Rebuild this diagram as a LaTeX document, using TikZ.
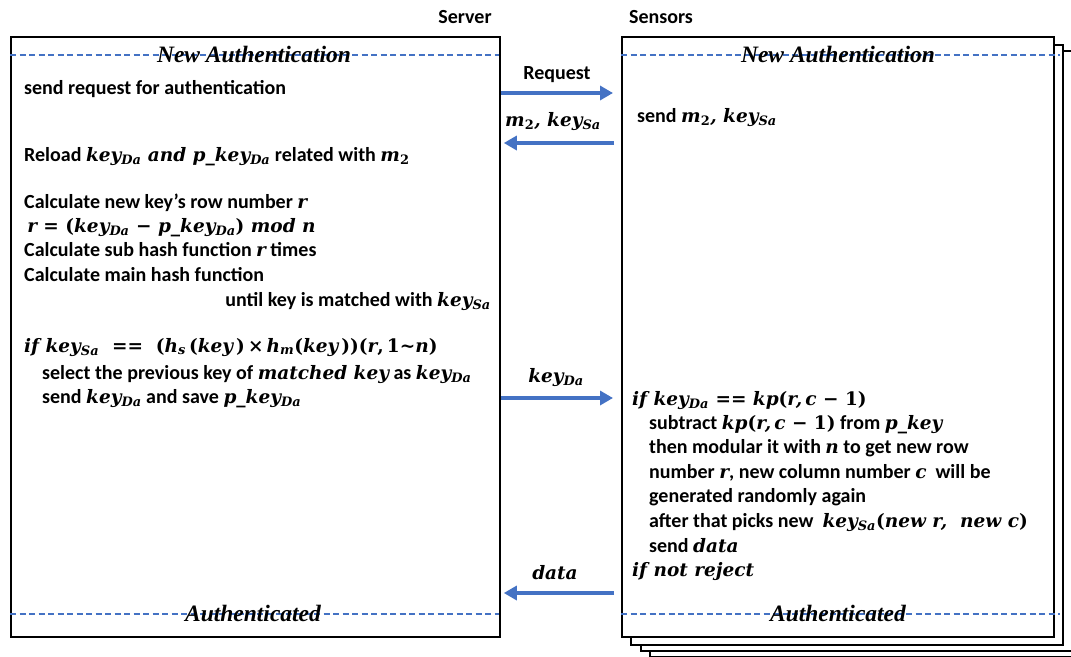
\documentclass[tikz,border=0pt]{standalone}
\usepackage[no-math]{fontspec}
\setmainfont{Carlito}
\newfontfamily\hdrfont{Liberation Serif}
\newfontfamily\mvfont{DejaVu Serif}
\newcommand\M[1]{{\mvfont\bfseries\itshape\fontsize{18.5}{24}\selectfont #1}}
\newcommand\sbi[1]{\textsubscript{#1}}
\newcommand\up[1]{{\upshape #1}}
\usetikzlibrary{arrows.meta}
\definecolor{lnblue}{HTML}{4472C4}
\begin{document}
\begin{tikzpicture}[x=1pt,y=-1pt,
  frame/.style={draw=black,line width=1.8pt,fill=white,inner sep=0pt,anchor=north west},
  sep/.style={draw=lnblue,line width=1.6pt,dash pattern=on 6pt off 3.5pt},
  hdr/.style={font=\fontsize{23.5}{28}\selectfont\hdrfont\bfseries\itshape,inner sep=0pt,anchor=base},
  txt/.style={font=\fontsize{20}{24}\selectfont\bfseries,inner sep=0pt,anchor=base west},
  lbl/.style={txt,anchor=base},
  arr/.style={draw=lnblue,line width=4.5pt,-{Triangle[width=14pt,length=13pt]}}
]
\useasboundingbox (0,0) rectangle (1071,656);
% stacked sensor boxes
\node[frame,minimum width=432pt,minimum height=600pt] (s3) at (649,56) {};
\node[frame,minimum width=432pt,minimum height=600pt] (s2) at (640,50) {};
\node[frame,minimum width=432pt,minimum height=600pt] (s1) at (630,44) {};
\node[frame,minimum width=432pt,minimum height=600pt] (sen) at (621,36) {};
\node[frame,minimum width=489pt,minimum height=600pt] (srv) at (10,36) {};
% titles
\node[lbl] (tsrv) at (465,23) {Server};
\node[lbl] (tsen) at (661,23) {Sensors};
% separators
\coordinate (d1a) at (10,55); \coordinate (d1b) at (499,55);
\coordinate (d2a) at (621,55); \coordinate (d2b) at (1060,55);
\coordinate (d3a) at (10,614); \coordinate (d3b) at (499,614);
\coordinate (d4a) at (621,614); \coordinate (d4b) at (1060,614);
\draw[sep] (d1a) -- (d1b);
\draw[sep] (d2a) -- (d2b);
\draw[sep] (d3a) -- (d3b);
\draw[sep] (d4a) -- (d4b);
\node[hdr] (h1) at (254,62) {New Authentication};
\node[hdr] (h2) at (838,62) {New Authentication};
\node[hdr] (h3) at (253,621) {Authenticated};
\node[hdr] (h4) at (838,621) {Authenticated};
% server text
\node[txt] (a1) at (24,94) {send request for authentication};
\node[txt] (a2) at (24,161) {Reload \M{key\sbi{Da} and p\_key\sbi{Da}} related with \M{m\sbi{\up{2}}}};
\node[txt] (a3) at (24,208) {Calculate new key’s row number \M{r}};
\node[txt] (a4) at (24,232) {\M{\,r \up{= (}key\sbi{Da} \up{−} p\_key\sbi{Da}\up{)} mod n}};
\node[txt] (a5) at (24,256) {Calculate sub hash function \M{r} times};
\node[txt] (a6) at (24,281) {Calculate main hash function};
\node[txt,anchor=base east] (a7) at (491,306) {until key is matched with \M{key\sbi{Sa}}};
\node[txt] (a8) at (24,352) {\M{if key\sbi{Sa}\ \ \up{==}\ \ \up{(}h\sbi{s}\,\up{(}key\,\up{)}\,\up{×}\,h\sbi{m}\up{(}key\,\up{))(}r\up{,\,1\textasciitilde}n\up{)}}};
\node[txt] (a9) at (42,379) {select the previous key of \M{matched key} as \M{key\sbi{Da}}};
\node[txt] (a10) at (42,403) {send \M{key\sbi{Da}} and save \M{p\_key\sbi{Da}}};
% sensor text
\node[txt] (b1) at (637,122) {send \M{m\sbi{\up{2}}, key\sbi{Sa}}};
\node[txt] (b2) at (632,405) {\M{if key\sbi{Da} \up{== }kp\up{(}r,\,c \up{− 1)}}};
\node[txt] (b3) at (649,429) {subtract \M{kp\up{(}r,\,c \up{− 1)}} from \M{p\_key}};
\node[txt] (b4) at (649,453) {then modular it with \M{n} to get new row};
\node[txt] (b5) at (649,478) {number \M{r}, new column number \M{c}\ \ will be};
\node[txt] (b6) at (649,502) {generated randomly again};
\node[txt] (b7) at (649,527) {after that picks new\ \ \M{key\sbi{Sa}\up{(}new r,\ \ new c\up{)}}};
\node[txt] (b8) at (649,552) {send \M{data}};
\node[txt] (b9) at (632,576) {\M{if not reject}};
% arrows
\draw[arr,shorten >=8pt] (srv.east |- 0,93) -- (sen.west |- 0,93);
\draw[arr,shorten >=3pt,shorten <=7pt] (sen.west |- 0,143) -- (srv.east |- 0,143);
\draw[arr,shorten >=8pt] (srv.east |- 0,398) -- (sen.west |- 0,398);
\draw[arr,shorten >=3pt,shorten <=7pt] (sen.west |- 0,593) -- (srv.east |- 0,593);
\node[lbl] (l1) at (557,79) {Request};
\node[lbl] (l2) at (553,126) {\M{m\sbi{\up{2}}, key\sbi{Sa}}};
\node[lbl] (l3) at (556,382) {\M{key\sbi{Da}}};
\node[lbl] (l4) at (555,579) {\M{data}};
\end{tikzpicture}
\end{document}
